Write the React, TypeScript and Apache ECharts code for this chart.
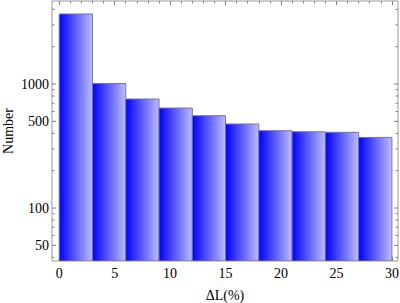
import React, { useEffect, useRef } from "react";
import * as echarts from "echarts";

// Histogram bins (ΔL in %), width 3
const binStarts = [0, 3, 6, 9, 12, 15, 18, 21, 24, 27];
const binEnds = [3, 6, 9, 12, 15, 18, 21, 24, 27, 30];
const counts = [3670, 1010, 757, 640, 555, 476, 420, 412, 408, 371];

// Tick values
const xMajorTicks = [0, 5, 10, 15, 20, 25, 30];
const xMinorTicks = [1, 2, 3, 4, 6, 7, 8, 9, 11, 12, 13, 14, 16, 17, 18, 19, 21, 22, 23, 24, 26, 27, 28, 29];
const yMajorTicks = [50, 100, 500, 1000];
const yMinorTicks = [40, 60, 70, 80, 90, 200, 300, 400, 600, 700, 800, 900, 2000, 3000, 4000];

const X_MIN = -0.65;
const X_MAX = 30.55;
const Y_MIN = 37.4;
const Y_MAX = 4670;

const FONT = "Liberation Serif";
const TICK_COLOR = "#808080";

export default function App() {
  const ref = useRef<HTMLDivElement>(null);

  useEffect(() => {
    if (!ref.current) return;
    const chart = echarts.init(ref.current, null, { renderer: "svg" });

    const barData = binStarts.map((s, i) => [s, binEnds[i], counts[i]]);
    const yTickData = [
      ...yMajorTicks.map((v) => [X_MIN, v, 1]),
      ...yMinorTicks.map((v) => [X_MIN, v, 0]),
    ];

    const xAxisBase = (position: "top" | "bottom", values: number[], len: number, labels: boolean, extra: any = {}) => ({
      type: "value",
      min: X_MIN,
      max: X_MAX,
      position,
      gridIndex: 0,
      axisLine: { show: false },
      splitLine: { show: false },
      axisTick: {
        show: true,
        inside: true,
        length: len,
        customValues: values,
        lineStyle: { color: TICK_COLOR, width: 1 },
      },
      axisLabel: labels
        ? {
            show: true,
            customValues: values,
            color: "#000",
            fontFamily: FONT,
            fontSize: 14,
            margin: 5,
          }
        : { show: false },
      ...extra,
    });

    chart.setOption({
      animation: false,
      backgroundColor: "#fff",
      textStyle: { fontFamily: FONT },
      grid: {
        left: 52,
        top: 1,
        width: 346,
        height: 260,
        show: true,
        borderColor: "#999",
        borderWidth: 1,
        backgroundColor: "transparent",
        containLabel: false,
        outerBoundsMode: "none",
      },
      xAxis: [
        xAxisBase("bottom", xMajorTicks, 4, true, {
          name: "ΔL(%)",
          nameLocation: "middle",
          nameGap: 27,
          nameTextStyle: { color: "#000", fontFamily: FONT, fontSize: 14 },
        }),
        xAxisBase("bottom", xMinorTicks, 2.5, false),
        xAxisBase("top", xMajorTicks, 4, false),
        xAxisBase("top", xMinorTicks, 2.5, false),
      ],
      yAxis: [
        {
          type: "log",
          logBase: 10,
          min: Y_MIN,
          max: Y_MAX,
          axisLine: { show: false },
          axisTick: { show: false },
          axisLabel: { show: false },
          splitLine: { show: false },
          minorTick: { show: false },
          name: "Number",
          nameLocation: "middle",
          nameGap: 37,
          nameRotate: 90,
          nameTextStyle: { color: "#000", fontFamily: FONT, fontSize: 14 },
        },
      ],
      series: [
        {
          type: "custom",
          name: "bars",
          xAxisIndex: 0,
          yAxisIndex: 0,
          encode: { x: [0, 1], y: 2 },
          data: barData,
          clip: true,
          renderItem: (params: any, api: any) => {
            const p0 = api.coord([api.value(0), api.value(2)]);
            const p1 = api.coord([api.value(1), Y_MIN]);
            return {
              type: "rect",
              shape: { x: p0[0], y: p0[1], width: p1[0] - p0[0], height: p1[1] - p0[1] },
              style: {
                fill: new echarts.graphic.LinearGradient(0, 0, 1, 0, [
                  { offset: 0, color: "#0000ff" },
                  { offset: 1, color: "#bcbcff" },
                ]),
                stroke: "#777788",
                lineWidth: 1,
              },
            };
          },
          z: 2,
        },
        {
          type: "custom",
          name: "yticks",
          xAxisIndex: 0,
          yAxisIndex: 0,
          encode: { x: 0, y: 1 },
          data: yTickData,
          clip: false,
          silent: true,
          renderItem: (params: any, api: any) => {
            const v = api.value(1);
            const major = api.value(2) === 1;
            const pl = api.coord([X_MIN, v]);
            const pr = api.coord([X_MAX, v]);
            const len = major ? 4 : 2.5;
            const children: any[] = [
              {
                type: "line",
                shape: { x1: pl[0], y1: pl[1], x2: pl[0] + len, y2: pl[1] },
                style: { stroke: TICK_COLOR, lineWidth: 1 },
              },
              {
                type: "line",
                shape: { x1: pr[0] - len, y1: pr[1], x2: pr[0], y2: pr[1] },
                style: { stroke: TICK_COLOR, lineWidth: 1 },
              },
            ];
            if (major) {
              children.push({
                type: "text",
                style: {
                  text: String(v),
                  x: pl[0] - 3,
                  y: pl[1],
                  align: "right",
                  verticalAlign: "middle",
                  fill: "#000",
                  fontFamily: FONT,
                  fontSize: 14,
                },
              });
            }
            return { type: "group", children };
          },
          z: 5,
        },
      ],
    });

    return () => {
      chart.dispose();
    };
  }, []);

  return (
    <div
      ref={ref}
      style={{ position: "fixed", left: 0, top: 0, width: 400, height: 303, background: "#fff" }}
    />
  );
}
